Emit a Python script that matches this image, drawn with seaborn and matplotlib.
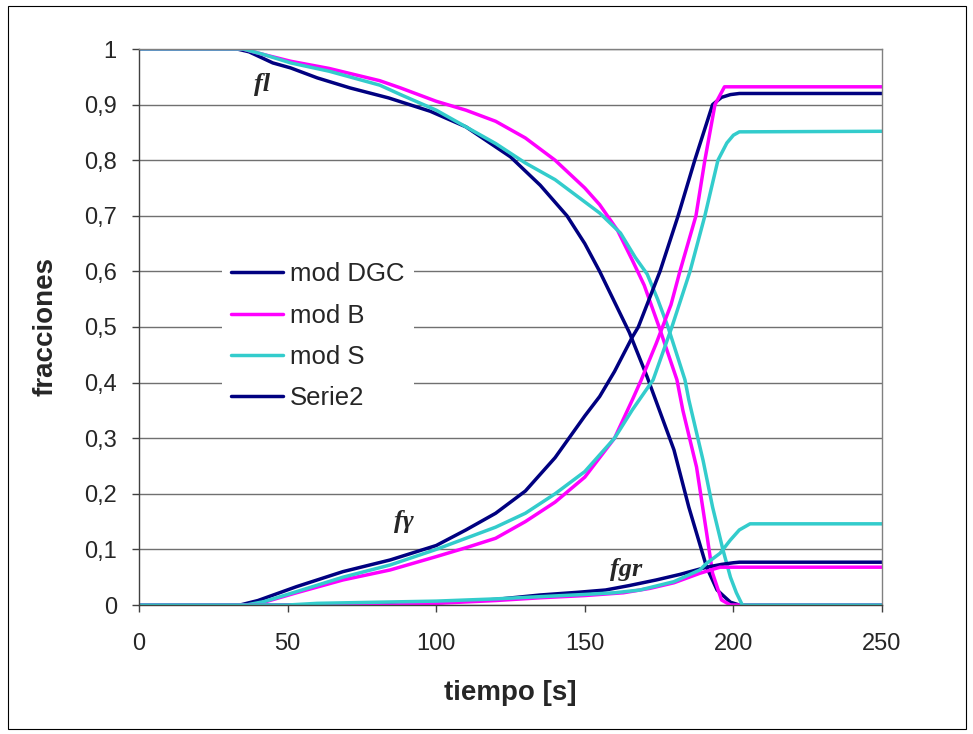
import matplotlib
matplotlib.use("Agg")
import matplotlib.pyplot as plt
import seaborn as sns
from matplotlib.patches import Rectangle

# fraccion liquida (fl)
fl_dgc_t = [0, 33, 37, 45, 51, 60, 71, 84, 98, 110, 125, 135, 144, 150, 155, 160, 165, 171, 180, 185, 191, 194.5, 199, 202, 250]
fl_dgc = [1, 1, 0.995, 0.975, 0.966, 0.948, 0.93, 0.912, 0.888, 0.86, 0.806, 0.755, 0.70, 0.65, 0.60, 0.545, 0.49, 0.41, 0.279, 0.176, 0.068, 0.027, 0.005, 0, 0]

fl_b_t = [0, 35, 42, 51, 64, 81, 88, 100, 110, 120, 130, 140, 150, 155, 161, 166, 170, 175, 181, 183, 187.6, 191, 193, 196, 199, 250]
fl_b = [1, 1, 0.99, 0.978, 0.965, 0.943, 0.93, 0.906, 0.89, 0.87, 0.84, 0.80, 0.75, 0.72, 0.674, 0.62, 0.575, 0.5, 0.405, 0.35, 0.248, 0.129, 0.057, 0.009, 0, 0]

fl_s_t = [0, 35, 42, 51, 64, 81, 88, 100, 110, 120, 130, 140, 150, 155, 162, 167, 171, 174.5, 178, 183.7, 185, 189.8, 193, 196.5, 199, 201, 203, 250]
fl_s = [1, 1, 0.99, 0.975, 0.96, 0.935, 0.918, 0.89, 0.86, 0.83, 0.795, 0.765, 0.725, 0.705, 0.669, 0.625, 0.595, 0.55, 0.5, 0.405, 0.369, 0.26, 0.176, 0.099, 0.05, 0.022, 0, 0]

# fraccion gamma (fy)
fg_dgc_t = [0, 34, 40, 53, 68.6, 84.5, 100, 110, 120, 130, 140, 150, 155, 160, 166, 168, 175.3, 181.4, 187, 193, 196, 199, 202, 250]
fg_dgc = [0, 0, 0.008, 0.033, 0.06, 0.081, 0.107, 0.135, 0.165, 0.205, 0.265, 0.34, 0.375, 0.42, 0.482, 0.5, 0.6, 0.7, 0.8, 0.9, 0.913, 0.918, 0.92, 0.92]

fg_b_t = [0, 38, 42, 53, 68.6, 84.5, 100, 110, 120, 130, 140, 150, 160, 166, 169, 174, 179, 182, 187.4, 190.4, 193.8, 197, 250]
fg_b = [0, 0, 0.005, 0.022, 0.045, 0.063, 0.087, 0.103, 0.12, 0.15, 0.185, 0.23, 0.30, 0.369, 0.405, 0.47, 0.54, 0.6, 0.7, 0.8, 0.9, 0.932, 0.932]

fg_s_t = [0, 36, 42, 53, 68.6, 84.5, 100, 110, 120, 130, 140, 150, 160, 166, 173, 179.3, 185.4, 190.4, 194.8, 197.8, 200, 202, 250]
fg_s = [0, 0, 0.006, 0.024, 0.05, 0.072, 0.10, 0.12, 0.14, 0.165, 0.20, 0.24, 0.30, 0.351, 0.405, 0.5, 0.6, 0.7, 0.8, 0.831, 0.845, 0.851, 0.852]

# fraccion grafito (fgr)
fgr_dgc_t = [0, 80, 100, 120, 135, 148, 157, 165, 174, 182, 191, 196, 200, 202, 250]
fgr_dgc = [0, 0, 0.004, 0.01, 0.018, 0.023, 0.027, 0.035, 0.045, 0.055, 0.068, 0.073, 0.076, 0.077, 0.077]

fgr_b_t = [0, 85, 100, 120, 135, 150, 163, 172, 180, 188.7, 193, 195.5, 250]
fgr_b = [0, 0, 0.003, 0.008, 0.013, 0.017, 0.022, 0.03, 0.04, 0.057, 0.064, 0.068, 0.068]

fgr_s_t = [0, 50, 60, 80, 100, 120, 135, 150, 160, 168.6, 180, 188.7, 191, 195.5, 199, 202, 205.6, 250]
fgr_s = [0, 0, 0.003, 0.005, 0.007, 0.011, 0.015, 0.019, 0.022, 0.027, 0.042, 0.063, 0.075, 0.093, 0.117, 0.135, 0.146, 0.146]

x_ticks = [0, 50, 100, 150, 200, 250]
y_ticks = [0, 0.1, 0.2, 0.3, 0.4, 0.5, 0.6, 0.7, 0.8, 0.9, 1]
y_tick_labels = ['0', '0,1', '0,2', '0,3', '0,4', '0,5', '0,6', '0,7', '0,8', '0,9', '1']

navy = '#000080'
magenta = '#FF00FF'
cyan = '#33CCCC'

sns.set_style("white")
plt.rcParams['font.family'] = ['Liberation Sans', 'DejaVu Sans']

fig = plt.figure(figsize=(9.73, 7.34), dpi=100)
ax = fig.add_axes([139 / 973, 1 - 605 / 734, 743 / 973, 556 / 734])

curves = [
    (fl_dgc_t, fl_dgc, navy, 'mod DGC'),
    (fl_b_t, fl_b, magenta, 'mod B'),
    (fl_s_t, fl_s, cyan, 'mod S'),
    (fg_dgc_t, fg_dgc, navy, 'Serie2'),
    (fg_b_t, fg_b, magenta, None),
    (fg_s_t, fg_s, cyan, None),
    (fgr_dgc_t, fgr_dgc, navy, None),
    (fgr_b_t, fgr_b, magenta, None),
    (fgr_s_t, fgr_s, cyan, None),
]

handles = []
labels = []
for t, f, c, lab in curves:
    sns.lineplot(x=t, y=f, ax=ax, color=c, linewidth=2.5, estimator=None,
                 sort=False, legend=False)
    if lab is not None:
        handles.append(ax.lines[-1])
        labels.append(lab)

ax.set_xlim(0, 250)
ax.set_ylim(0, 1)
ax.set_xticks(x_ticks)
ax.set_yticks(y_ticks)
ax.set_yticklabels(y_tick_labels)
ax.tick_params(axis='both', direction='out', length=5, width=1, color='#404040',
               labelsize=17, bottom=True, left=True)
ax.tick_params(axis='y', pad=11)
ax.tick_params(axis='x', pad=15)

ax.yaxis.grid(True, color='#707070', linewidth=1)
ax.xaxis.grid(False)
ax.set_axisbelow(True)
for side in ['left', 'bottom']:
    ax.spines[side].set_color('#404040')
    ax.spines[side].set_linewidth(1)
for side in ['top', 'right']:
    ax.spines[side].set_color('#808080')
    ax.spines[side].set_linewidth(1)

ax.set_xlabel('tiempo [s]', fontsize=20, fontweight='bold')
ax.set_ylabel('fracciones', fontsize=20, fontweight='bold')
ax.xaxis.set_label_coords(0.5, -0.135)
ax.yaxis.set_label_coords(-0.108, 0.5)

serif = ['Liberation Serif', 'DejaVu Serif']
ax.text(41.4, 0.937, 'fl', family=serif, style='italic', weight='bold', fontsize=19,
        ha='center', va='center')
ax.text(89, 0.151, 'f\u03b3', family=serif, style='italic', weight='bold', fontsize=19,
        ha='center', va='center')
ax.text(164, 0.063, 'fgr', family=serif, style='italic', weight='bold', fontsize=19,
        ha='center', va='center')

leg = ax.legend(handles, labels, loc='upper left', bbox_to_anchor=(0.112, 0.633),
                borderaxespad=0, frameon=True, fancybox=False, facecolor='white',
                edgecolor='none', framealpha=1, fontsize=18.5, handlelength=2.0,
                handletextpad=0.3, borderpad=0.35, labelspacing=0.68)

fig.patches.append(Rectangle((8 / 973, 1 - 729 / 734), 958 / 973, 723 / 734,
                             transform=fig.transFigure, fill=False,
                             edgecolor='black', linewidth=0.8))

fig.savefig('out.png', dpi=100)
